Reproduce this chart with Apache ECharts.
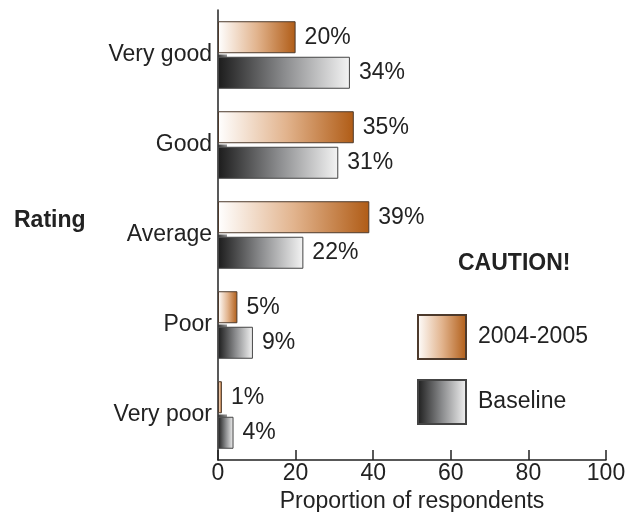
<!DOCTYPE html>
<html>
<head>
<meta charset="utf-8">
<script src="https://cdn.jsdelivr.net/npm/echarts@6/dist/echarts.min.js"></script>
<style>
  html, body { margin: 0; padding: 0; background: #fff; }
  #chart { width: 634px; height: 512px; }
</style>
</head>
<body>
<div id="chart"></div>
<script>
// Rating categories, top to bottom
const categories = ['Very good', 'Good', 'Average', 'Poor', 'Very poor'];
// Percent of respondents per rating
const recentValues = [20, 35, 39, 5, 1];      // 2004-2005
const baselineValues = [34, 31, 22, 9, 4];    // Baseline
const xTicks = [0, 20, 40, 60, 80, 100];

const FONT = '"Liberation Sans", Arial, Helvetica, sans-serif';
const TEXT = '#222';
const FS = 23;

const orangeFill = new echarts.graphic.LinearGradient(0, 0, 1, 0, [
  { offset: 0, color: '#ffffff' },
  { offset: 0.5, color: '#e2b48e' },
  { offset: 1, color: '#b05c16' }
]);
const greyFill = new echarts.graphic.LinearGradient(0, 0, 1, 0, [
  { offset: 0, color: '#1c1c1c' },
  { offset: 0.5, color: '#8a8b8d' },
  { offset: 1, color: '#f4f4f4' }
]);

const barLabel = {
  show: true,
  position: 'right',
  distance: 9,
  formatter: '{c}%',
  fontFamily: FONT,
  fontSize: FS,
  color: TEXT
};

const chart = echarts.init(document.getElementById('chart'), null, { renderer: 'canvas' });

chart.setOption({
  animation: false,
  backgroundColor: '#fff',
  textStyle: { fontFamily: FONT },
  grid: { left: 218, right: 28, top: 10, bottom: 52, containLabel: false, outerBoundsMode: 'none' },
  xAxis: {
    type: 'value',
    min: xTicks[0],
    max: xTicks[xTicks.length - 1],
    interval: 20,
    name: 'Proportion of respondents',
    nameLocation: 'middle',
    nameGap: 29,
    nameTextStyle: { fontFamily: FONT, fontSize: FS, color: TEXT },
    axisLine: { show: true, lineStyle: { color: '#222', width: 1.5 } },
    axisTick: { show: true, inside: true, length: 10, lineStyle: { color: '#222', width: 1.5 } },
    axisLabel: { fontFamily: FONT, fontSize: FS, color: TEXT, margin: 2 },
    splitLine: { show: false }
  },
  yAxis: {
    type: 'category',
    data: categories,
    inverse: true,
    axisLine: { show: true, lineStyle: { color: '#222', width: 1.5 } },
    axisTick: { show: false },
    axisLabel: { fontFamily: FONT, fontSize: FS, color: TEXT, margin: 6 }
  },
  legend: {
    data: ['2004-2005', 'Baseline'],
    orient: 'vertical',
    left: 412,
    top: 309,
    itemWidth: 48,
    itemHeight: 44,
    itemGap: 19,
    icon: 'rect',
    textStyle: { fontFamily: FONT, fontSize: FS, color: TEXT, padding: [0, 0, 0, 7] }
  },
  graphic: [
    {
      type: 'text',
      left: 14,
      top: 209,
      style: { text: 'Rating', font: 'bold 23px ' + FONT, fill: TEXT }
    },
    {
      type: 'text',
      left: 458,
      top: 252,
      style: { text: 'CAUTION!', font: 'bold 23px ' + FONT, fill: TEXT }
    }
  ],
  series: [
    {
      name: '2004-2005',
      type: 'bar',
      data: recentValues,
      barWidth: 32,
      barGap: '11%',
      itemStyle: { color: orangeFill, borderColor: '#4d3a2c', borderWidth: 1 },
      label: barLabel
    },
    {
      name: 'Baseline',
      type: 'bar',
      data: baselineValues,
      barWidth: 32,
      itemStyle: { color: greyFill, borderColor: '#444', borderWidth: 1 },
      label: barLabel
    },
    {
      // small dark ledge at the base of each baseline bar
      type: 'custom',
      silent: true,
      data: categories.map((c, i) => [0, i]),
      encode: { x: 0, y: 1 },
      renderItem: function (params, api) {
        const p = api.coord([0, api.value(1)]);
        return {
          type: 'rect',
          shape: { x: p[0], y: p[1] - 0.5, width: 9, height: 2.5 },
          style: {
            fill: new echarts.graphic.LinearGradient(0, 0, 1, 0, [
              { offset: 0, color: '#333' },
              { offset: 1, color: '#999' }
            ])
          }
        };
      }
    }
  ]
});
</script>
</body>
</html>
